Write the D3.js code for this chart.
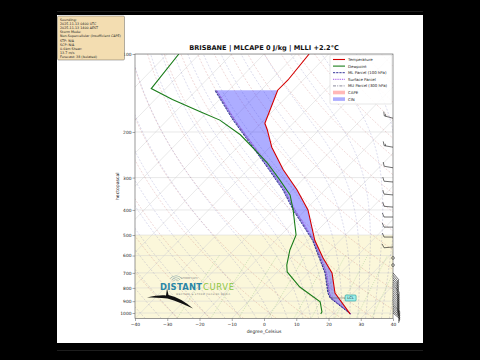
<!DOCTYPE html>
<html>
<head>
<meta charset="utf-8">
<script src="https://cdn.jsdelivr.net/npm/d3@7"></script>
<style>
  body { margin: 0; background: #000; }
  svg { display: block; }
  text { font-family: "DejaVu Sans", sans-serif; }
</style>
</head>
<body>
<svg id="chart" width="480" height="360"></svg>
<script>
// ---- sounding (hPa / degC) ----
const tempPres = [1008, 837, 700, 613, 524, 400, 335, 280, 229, 196, 185, 138, 126, 100];
const tempVals = [25.3, 14.3, 7.3, 0.0, -7.9, -19.2, -28.6, -39.0, -49.4, -56.1, -58.8, -64.8, -64.7, -66.0];

const dewPres = [1008, 991, 906, 794, 694, 653, 571, 500, 400, 350, 307, 263, 239, 205, 180, 167, 150, 136, 100];
const dewVals = [16.2, 16.0, 12.4, 1.6, -6.9, -9.1, -12.7, -15.3, -23.8, -29.3, -36.9, -46.1, -52.5, -62.9, -73.7, -82.3, -94.6, -104.5, -106.4];

const parcelPres = [1008, 875, 837, 700, 524, 400, 335, 273, 229, 180, 138];
const mlParcel   = [25.4, 14.3, 12.1, 5.1, -8.6, -23.8, -33.0, -44.9, -55.3, -69.6, -84.3];
const sfcParcel  = [25.6, 14.8, 12.6, 5.6, -8.1, -23.2, -32.4, -44.3, -54.7, -69.0, -83.7];
const muParcel   = [25.5, 14.5, 12.3, 5.3, -8.4, -23.5, -32.7, -44.6, -55.0, -69.3, -84.0];

const lclPres = 875, lclTemp = 14.3;

// wind barbs (hPa, knots, direction wind comes from)
const barbPres = [177, 229, 275, 312, 350, 390, 426, 466, 509, 556, 613, 653,
                  700, 715, 730, 745, 760, 775, 790, 805, 820, 835, 850, 865, 880, 895, 910, 925, 940, 955, 970, 985, 1000];
const barbSpd  = [15, 15, 10, 10, 10, 10, 10, 10, 10, 10, 0, 0,
                  10, 10, 10, 10, 10, 10, 10, 15, 15, 15, 15, 15, 15, 15, 15, 15, 15, 15, 15, 10, 10];
const barbDir  = [285, 280, 280, 275, 275, 275, 270, 270, 270, 265, 0, 0,
                  140, 140, 140, 140, 140, 140, 135, 135, 135, 135, 135, 135, 135, 135, 135, 135, 130, 130, 130, 130, 130];

const presTicks = [100, 200, 300, 400, 500, 600, 700, 800, 900, 1000];
const tempTicks = [-40, -30, -20, -10, 0, 10, 20, 30, 40];

const infoLines = ["Sounding:", "2025-11-13 0400 UTC", "2025-11-13 1400 AEST", "Storm Mode:",
  "Non-Supercellular (Insufficient CAPE)", "STP: N/A", "SCP: N/A", "0-6km Shear:", "13.7 m/s", "Forecast: 38 (Isolated)"];

const svg = d3.select("#chart");

// white figure panel
svg.append("rect").attr("x", 57).attr("y", 15).attr("width", 366).attr("height", 328).attr("fill", "#fff");
svg.append("line").attr("x1", 57).attr("x2", 423).attr("y1", 11.5).attr("y2", 11.5).attr("stroke", "#3a3a3a").attr("stroke-width", 0.5);
svg.append("line").attr("x1", 57).attr("x2", 423).attr("y1", 350.5).attr("y2", 350.5).attr("stroke", "#3a3a3a").attr("stroke-width", 0.5);

const W = 258, H = 264.5;
const x = d3.scaleLinear().domain([-40, 40]).range([0, W]);
const y = d3.scaleLog().domain([1050, 100]).range([H, 0]);
const skew = (t, p) => x(t) + (H - y(p)) * W / H;

const g = svg.append("g").attr("transform", "translate(135,54)");
svg.append("clipPath").attr("id", "clip").append("rect").attr("width", W).attr("height", H);
const plot = g.append("g").attr("clip-path", "url(#clip)");

// pale band in the lower troposphere
plot.append("rect").attr("x", 0).attr("y", y(500)).attr("width", W).attr("height", H - y(500))
    .attr("fill", "#fbf7da");

// grid: horizontal and skewed isotherms
plot.selectAll(".hgrid").data(presTicks).enter().append("line")
    .attr("x1", 0).attr("x2", W).attr("y1", d => y(d)).attr("y2", d => y(d))
    .attr("stroke", "#d2d2d2").attr("stroke-width", 0.5);
plot.selectAll(".iso").data(d3.range(-120, 41, 10)).enter().append("line")
    .attr("x1", d => skew(d, 1050)).attr("y1", y(1050))
    .attr("x2", d => skew(d, 100)).attr("y2", y(100))
    .attr("stroke", "#d2d2d2").attr("stroke-width", 0.5);

const line = d3.line().x(d => skew(d.t, d.p)).y(d => y(d.p));
const logLevels = (p0, p1, n) => d3.range(n + 1).map(i => p0 * Math.pow(p1 / p0, i / n));

// dry adiabats
d3.range(-30, 201, 10).forEach(th => {
  const pts = logLevels(1050, 100, 40).map(p => ({p: p, t: (th + 273.15) * Math.pow(p / 1000, 0.2857) - 273.15}));
  plot.append("path").attr("d", line(pts)).attr("fill", "none")
      .attr("stroke", "#b55").attr("stroke-opacity", 0.45).attr("stroke-width", 0.5).attr("stroke-dasharray", "2,1.5");
});

// moist adiabats (integrated from 1000 hPa)
function dTdp(T, p) {
  const Rd = 287.04, Cp = 1005.7, Lv = 2.501e6, eps = 0.622;
  const es = 6.112 * Math.exp(17.67 * (T - 273.15) / (T - 29.65));
  const rs = eps * es / (p - es);
  return (Rd * T + Lv * rs) / (Cp + Lv * Lv * rs * eps / (Rd * T * T)) / p;
}
function moist(t0) {
  const up = [], dn = [];
  let T = t0 + 273.15;
  for (let p = 1000; p >= 100; p -= 2) { up.push({p: p, t: T - 273.15}); T -= dTdp(T, p) * 2; }
  T = t0 + 273.15;
  for (let p = 1000; p <= 1050; p += 2) { dn.push({p: p, t: T - 273.15}); T += dTdp(T, p) * 2; }
  return dn.reverse().concat(up);
}
d3.range(-50, 10.1, 5).concat(d3.range(12.5, 45.1, 2.5)).forEach(t0 => {
  plot.append("path").attr("d", line(moist(t0))).attr("fill", "none")
      .attr("stroke", "#55a").attr("stroke-opacity", 0.4).attr("stroke-width", 0.5).attr("stroke-dasharray", "2,1.5");
});

// mixing ratio lines
[0.0004, 0.001, 0.002, 0.004, 0.007, 0.01, 0.016, 0.024, 0.032].forEach(w => {
  const pts = logLevels(1050, 600, 20).map(p => {
    const e = p * w / (0.622 + w), l = Math.log(e / 6.112);
    return {p: p, t: 243.5 * l / (17.67 - l)};
  });
  plot.append("path").attr("d", line(pts)).attr("fill", "none")
      .attr("stroke", "#393").attr("stroke-opacity", 0.45).attr("stroke-width", 0.5).attr("stroke-dasharray", "1,1.2");
});

// CIN between ML parcel and temperature
function interp(ps, vs, p) {
  for (let i = 0; i < ps.length - 1; i++) {
    if (p <= ps[i] && p >= ps[i + 1]) {
      const f = Math.log(p / ps[i]) / Math.log(ps[i + 1] / ps[i]);
      return vs[i] + f * (vs[i + 1] - vs[i]);
    }
  }
  return vs[vs.length - 1];
}
const cinLevels = Array.from(new Set(parcelPres.concat(tempPres.filter(p => p >= 138 && p <= 1008)))).sort((a, b) => b - a);
const cinPoly = cinLevels.map(p => [skew(interp(parcelPres, mlParcel, p), p), y(p)])
  .concat(cinLevels.slice().reverse().map(p => [skew(interp(tempPres, tempVals, p), p), y(p)]));
plot.append("path").attr("d", "M" + cinPoly.join("L") + "Z").attr("fill", "#33f").attr("fill-opacity", 0.4);

// profiles
const zip = (ps, ts) => ps.map((p, i) => ({p: p, t: ts[i]}));
plot.append("path").attr("d", line(zip(parcelPres, muParcel))).attr("fill", "none")
    .attr("stroke", "#6b6b80").attr("stroke-width", 0.8).attr("stroke-dasharray", "3,1.2,1,1.2");
plot.append("path").attr("d", line(zip(parcelPres, sfcParcel))).attr("fill", "none")
    .attr("stroke", "#8a2be2").attr("stroke-width", 0.9).attr("stroke-dasharray", "0.9,0.9");
plot.append("path").attr("d", line(zip(parcelPres, mlParcel))).attr("fill", "none")
    .attr("stroke", "#1c1c8c").attr("stroke-width", 0.9).attr("stroke-dasharray", "2.2,1");
plot.append("path").attr("d", line(zip(tempPres, tempVals))).attr("fill", "none")
    .attr("stroke", "#d40000").attr("stroke-width", 1.1);
plot.append("path").attr("d", line(zip(dewPres, dewVals))).attr("fill", "none")
    .attr("stroke", "#1a7d1a").attr("stroke-width", 1.1);

// LCL marker
const lx = skew(lclTemp, lclPres), ly = y(lclPres);
g.append("line").attr("x1", lx).attr("x2", lx + 15).attr("y1", ly).attr("y2", ly).attr("stroke", "#555").attr("stroke-width", 0.5);
g.append("rect").attr("x", lx + 15).attr("y", ly - 3).attr("width", 11).attr("height", 6).attr("rx", 1)
    .attr("fill", "#9eeee8").attr("stroke", "#1a9a9a").attr("stroke-width", 0.6);
g.append("text").attr("x", lx + 20.5).attr("y", ly + 1.3).attr("text-anchor", "middle")
    .attr("font-size", 3.6).attr("fill", "#123").text("LCL");

// axes
g.append("rect").attr("width", W).attr("height", H).attr("fill", "none").attr("stroke", "#555").attr("stroke-width", 0.6);
const yAxis = g.append("g").call(d3.axisLeft(y).tickValues(presTicks).tickFormat(d3.format("d")).tickSize(2.5).tickPadding(1));
const xAxis = g.append("g").attr("transform", `translate(0,${H})`)
    .call(d3.axisBottom(x).tickValues(tempTicks).tickFormat(d3.format("d")).tickSize(2.5).tickPadding(1.5));
[xAxis, yAxis].forEach(a => {
  a.select(".domain").remove();
  a.selectAll("line").attr("stroke", "#555").attr("stroke-width", 0.5);
  a.selectAll("text").attr("font-size", 4.4).attr("fill", "#222").attr("font-family", "DejaVu Sans");
});
g.append("text").attr("x", W / 2).attr("y", H + 14).attr("text-anchor", "middle")
    .attr("font-size", 4.6).attr("fill", "#222").text("degree_Celsius");
g.append("text").attr("transform", `translate(-16.5,${H / 2}) rotate(-90)`).attr("text-anchor", "middle")
    .attr("font-size", 4.6).attr("fill", "#222").text("hectopascal");

// title
svg.append("text").attr("x", 135 + W / 2).attr("y", 50).attr("text-anchor", "middle")
    .attr("font-size", 6.6).attr("font-weight", "bold").attr("fill", "#111")
    .text("BRISBANE | MLCAPE 0 J/kg | MLLI +2.2°C");

// wind barbs along the right edge
function barb(bx, by, spd, dir) {
  const b = g.append("g");
  if (spd < 2.5) {
    b.append("circle").attr("cx", bx).attr("cy", by).attr("r", 1.4)
        .attr("fill", "none").attr("stroke", "#111").attr("stroke-width", 0.5);
    return;
  }
  const a = dir * Math.PI / 180, ux = Math.sin(a), uy = -Math.cos(a);
  const px = -uy, py = ux, L = 9, fl = 4, gap = 1.5;
  const tx = bx + ux * L, ty = by + uy * L;
  let d = `M${bx},${by}L${tx},${ty}`, pos = 0, s = Math.round(spd / 5) * 5;
  while (s >= 10) {
    const sx = tx - ux * pos, sy = ty - uy * pos;
    d += `M${sx},${sy}L${sx + px * fl + ux * fl * 0.4},${sy + py * fl + uy * fl * 0.4}`;
    pos += gap; s -= 10;
  }
  if (s >= 5) {
    if (pos === 0) pos = gap;
    const sx = tx - ux * pos, sy = ty - uy * pos;
    d += `M${sx},${sy}L${sx + px * fl / 2 + ux * fl * 0.2},${sy + py * fl / 2 + uy * fl * 0.2}`;
  }
  b.append("path").attr("d", d).attr("fill", "none").attr("stroke", "#111").attr("stroke-width", 0.6);
}
barbPres.forEach((p, i) => barb(W, y(p), barbSpd[i], barbDir[i]));

// legend
const legend = [
  {label: "Temperature", type: "line", color: "#d40000", dash: null, w: 1.1},
  {label: "Dewpoint", type: "line", color: "#1a7d1a", dash: null, w: 1.1},
  {label: "ML Parcel (100 hPa)", type: "line", color: "#1c1c8c", dash: "2.2,1", w: 0.9},
  {label: "Surface Parcel", type: "line", color: "#8a2be2", dash: "0.9,0.9", w: 0.9},
  {label: "MU Parcel (300 hPa)", type: "line", color: "#6b6b80", dash: "3,1.2,1,1.2", w: 0.8},
  {label: "CAPE", type: "patch", color: "#f33", op: 0.35},
  {label: "CIN", type: "patch", color: "#33f", op: 0.4}
];
const lg = svg.append("g").attr("transform", "translate(330,55)");
lg.append("rect").attr("width", 62).attr("height", 49).attr("rx", 1).attr("fill", "#fff")
    .attr("fill-opacity", 0.85).attr("stroke", "#ccc").attr("stroke-width", 0.5);
legend.forEach((e, i) => {
  const ly = 4.5 + i * 6.6;
  if (e.type === "line") {
    lg.append("line").attr("x1", 3).attr("x2", 15).attr("y1", ly).attr("y2", ly)
        .attr("stroke", e.color).attr("stroke-width", e.w).attr("stroke-dasharray", e.dash);
  } else {
    lg.append("rect").attr("x", 3).attr("y", ly - 1.8).attr("width", 12).attr("height", 3.6)
        .attr("fill", e.color).attr("fill-opacity", e.op);
  }
  lg.append("text").attr("x", 18).attr("y", ly + 1.4).attr("font-size", 3.9).attr("fill", "#222").text(e.label);
});

// info box
const ib = svg.append("g").attr("transform", "translate(57.5,16)");
ib.append("rect").attr("width", 67).attr("height", 44).attr("rx", 1.2)
    .attr("fill", "#f2d9a8").attr("fill-opacity", 0.9).attr("stroke", "#444").attr("stroke-width", 0.4);
infoLines.forEach((t, i) => {
  ib.append("text").attr("x", 2.5).attr("y", 4.6 + i * 4.2).attr("font-size", 3.3).attr("fill", "#222").text(t);
});

// logo
const logo = svg.append("g");
logo.append("path").attr("d", "M147,297.5 C155,295.5 162,295 166,295.5 L167,288.5 L168.5,295 C177,297 186,302 193,308.5 C185,305 176,300.5 167.5,298.5 C160,297.5 153,297.5 147,297.5 Z")
    .attr("fill", "#111");
[3, 5, 7].forEach(r => logo.append("path")
    .attr("d", d3.arc()({innerRadius: r, outerRadius: r + 0.5, startAngle: -0.9, endAngle: 0.9}))
    .attr("transform", "translate(176,283)").attr("fill", "#8aa"));
logo.append("text").attr("x", 181).attr("y", 279).attr("font-size", 2.6).attr("fill", "#888").text("STORM CAFE");
logo.append("text").attr("x", 160).attr("y", 290).attr("font-size", 8.4).attr("font-weight", "bold")
    .attr("fill", "#2a86a6").attr("textLength", 42).text("DISTANT");
logo.append("text").attr("x", 203).attr("y", 290).attr("font-size", 8.4)
    .attr("fill", "#8cc63f").attr("textLength", 31).text("CURVE");
logo.append("text").attr("x", 176).attr("y", 294.5).attr("font-size", 2.3).attr("fill", "#777")
    .attr("textLength", 54).text("WEATHER & STORM CHASING MEDIA");
</script>
</body>
</html>
